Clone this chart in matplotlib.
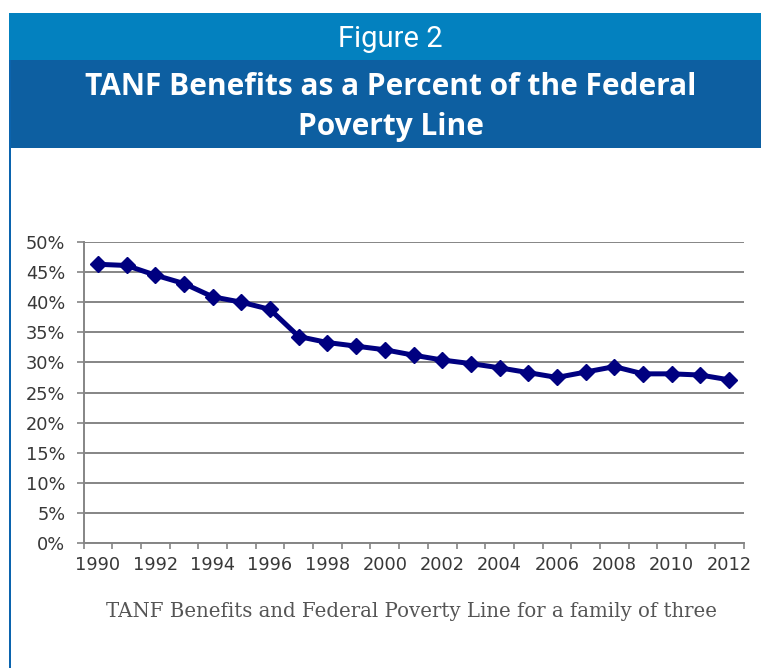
import matplotlib
matplotlib.use('Agg')
import matplotlib.pyplot as plt
from matplotlib.patches import Rectangle
from matplotlib.ticker import FuncFormatter

# TANF benefits as % of federal poverty line, family of three
years = list(range(1990, 2013))
pct = [46.3, 46.1, 44.5, 43.1, 40.9, 40.0, 38.8, 34.3, 33.3, 32.7, 32.1, 31.2,
       30.4, 29.8, 29.1, 28.3, 27.5, 28.4, 29.3, 28.1, 28.1, 27.9, 27.1]
year_labels = [str(y) for y in range(1990, 2013, 2)]

W, H = 761, 668
fig = plt.figure(figsize=(W / 100, H / 100), dpi=100)
fig.patch.set_facecolor('white')

# background layer in pixel coords for the header boxes
bg = fig.add_axes([0, 0, 1, 1])
bg.set_xlim(0, W)
bg.set_ylim(H, 0)
bg.axis('off')
bg.add_patch(Rectangle((9, 13), W - 9, 47, color='#0381bf', lw=0))
bg.add_patch(Rectangle((11, 60), W - 11, 88, color='#0d5fa1', lw=0))
bg.add_patch(Rectangle((9, 60), 2.2, H - 60, color='#0b64ae', lw=0))

bg.text(390, 47, 'Figure 2', color='white', fontsize=21, family='Roboto',
        ha='center', va='baseline')
bg.text(391, 95, 'TANF Benefits as a Percent of the Federal', color='white',
        fontsize=21.5, family='Open Sans', fontweight='bold', ha='center', va='baseline')
bg.text(391, 135, 'Poverty Line', color='white', fontsize=21.5, family='Open Sans',
        fontweight='bold', ha='center', va='baseline')
bg.text(412, 617, 'TANF Benefits and Federal Poverty Line for a family of three',
        color='#555555', fontsize=14.2, family='DejaVu Serif', ha='center', va='baseline')

# chart area
ax = fig.add_axes([83.5 / W, 125 / H, 660 / W, 301 / H])
ax.plot(years, pct, color='#000080', lw=3.6, marker='D', ms=8.5,
        mec='#000080', mfc='#000080', solid_joinstyle='round', zorder=3)

ax.set_xlim(1989.5, 2012.5)
ax.set_ylim(0, 50)
ax.set_yticks(range(0, 51, 5))
ax.yaxis.set_major_formatter(FuncFormatter(lambda v, p: f'{int(v)}%'))
ax.grid(axis='y', color='#858585', lw=1.4)
ax.set_axisbelow(True)

ax.set_xticks(range(1990, 2013, 2))
ax.set_xticklabels(year_labels)
ax.set_xticks([y - 0.5 for y in range(1990, 2014)], minor=True)
ax.tick_params(axis='x', which='major', length=0, pad=9, labelsize=12.8,
               labelcolor='#383838')
ax.tick_params(axis='x', which='minor', length=4, width=1.2, color='#858585')
ax.tick_params(axis='y', length=5, width=1.2, color='#858585', pad=8,
               labelsize=12.8, labelcolor='#383838')
for lab in ax.get_xticklabels() + ax.get_yticklabels():
    lab.set_family('DejaVu Sans')

for side in ['top', 'right']:
    ax.spines[side].set_visible(False)
for side in ['left', 'bottom']:
    ax.spines[side].set_color('#858585')
    ax.spines[side].set_linewidth(1.4)

fig.savefig('out.png', dpi=100)
